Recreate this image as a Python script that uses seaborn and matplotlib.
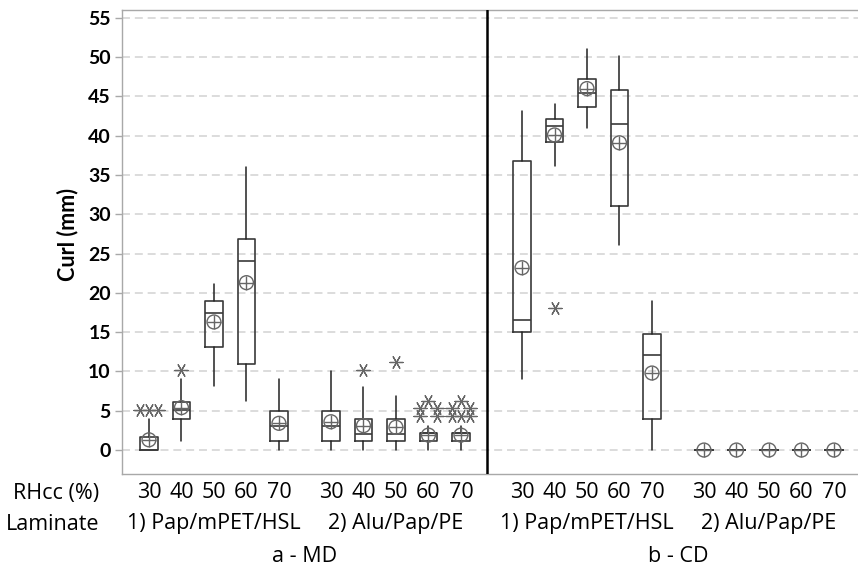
import collections

import matplotlib
matplotlib.use("Agg")
import matplotlib.pyplot as plt
import matplotlib.transforms as mtransforms
import numpy as np
import pandas as pd
import seaborn as sns

# ---- data -------------------------------------------------------------
rh_levels = [30, 40, 50, 60, 70]
laminates = ["1) Pap/mPET/HSL", "2) Alu/Pap/PE"]
directions = ["a - MD", "b - CD"]

# a - MD, 1) Pap/mPET/HSL
md_pap_q1 = [0.0, 4.0, 13.1, 11.0, 1.2]
md_pap_med = [0.0, 5.1, 17.4, 24.0, 3.0]
md_pap_q3 = [1.7, 6.1, 19.0, 26.9, 5.0]
md_pap_lo = [0.0, 1.1, 8.1, 6.2, 0.0]
md_pap_hi = [4.0, 9.0, 21.1, 36.0, 9.0]
md_pap_mean = [1.3, 5.4, 16.3, 21.3, 3.4]
md_pap_out = [[5.1, 5.1, 5.1], [10.2], [], [], []]

# a - MD, 2) Alu/Pap/PE
md_alu_q1 = [1.2, 1.2, 1.2, 1.2, 1.2]
md_alu_med = [3.0, 2.1, 2.1, 2.2, 2.2]
md_alu_q3 = [5.0, 4.0, 4.0, 2.2, 2.2]
md_alu_lo = [0.0, 0.0, 0.0, 0.0, 0.0]
md_alu_hi = [10.0, 8.0, 6.9, 3.0, 3.0]
md_alu_mean = [3.6, 3.1, 2.9, 1.9, 1.9]
md_alu_out = [[], [10.2], [11.2],
              [6.3, 5.3, 5.3, 4.3, 4.3],
              [6.3, 5.3, 5.3, 4.3, 4.3, 4.3]]

# b - CD, 1) Pap/mPET/HSL
cd_pap_q1 = [15.0, 39.2, 43.7, 31.0, 4.0]
cd_pap_med = [16.6, 41.2, 45.5, 41.5, 12.1]
cd_pap_q3 = [36.8, 42.1, 47.2, 45.8, 14.8]
cd_pap_lo = [9.1, 36.1, 41.0, 26.1, 0.0]
cd_pap_hi = [43.1, 44.0, 51.0, 50.1, 19.0]
cd_pap_mean = [23.2, 40.1, 46.0, 39.1, 9.8]
cd_pap_out = [[], [18.1], [], [], []]

# b - CD, 2) Alu/Pap/PE
cd_alu_q1 = [0.0, 0.0, 0.0, 0.0, 0.0]
cd_alu_med = [0.0, 0.0, 0.0, 0.0, 0.0]
cd_alu_q3 = [0.0, 0.0, 0.0, 0.0, 0.0]
cd_alu_lo = [0.0, 0.0, 0.0, 0.0, 0.0]
cd_alu_hi = [0.0, 0.0, 0.0, 0.0, 0.0]
cd_alu_mean = [0.0, 0.0, 0.0, 0.0, 0.0]
cd_alu_out = [[], [], [], [], []]

panels = [
    (directions[0], laminates[0], md_pap_q1, md_pap_med, md_pap_q3, md_pap_lo, md_pap_hi, md_pap_mean, md_pap_out),
    (directions[0], laminates[1], md_alu_q1, md_alu_med, md_alu_q3, md_alu_lo, md_alu_hi, md_alu_mean, md_alu_out),
    (directions[1], laminates[0], cd_pap_q1, cd_pap_med, cd_pap_q3, cd_pap_lo, cd_pap_hi, cd_pap_mean, cd_pap_out),
    (directions[1], laminates[1], cd_alu_q1, cd_alu_med, cd_alu_q3, cd_alu_lo, cd_alu_hi, cd_alu_mean, cd_alu_out),
]

# ---- layout -----------------------------------------------------------
group_start = [0.0, 5.6, 11.48, 17.08]   # left box of each laminate block
divider_x = 10.4
box_width = 0.54
flier_step = 0.27

sns.set_style("white")
plt.rcParams["font.family"] = ["Open Sans", "DejaVu Sans"]
plt.rcParams["text.color"] = "black"
plt.rcParams["ytick.labelcolor"] = "black"

fig = plt.figure(figsize=(8.58, 5.70), dpi=100)
ax = fig.add_axes([122 / 858, 96 / 570, 736 / 858, 464 / 570])

box_color = "#3a3a3a"
mark_color = "#666666"

stats, positions = [], []
mean_rows, out_rows = [], []
for gi, (dirn, lam, q1, med, q3, lo, hi, mean, out) in enumerate(panels):
    for i, rh in enumerate(rh_levels):
        x = group_start[gi] + i
        positions.append(x)
        stats.append(dict(q1=q1[i], med=med[i], q3=q3[i], whislo=lo[i],
                          whishi=hi[i], mean=mean[i], fliers=[]))
        mean_rows.append(dict(x=x, curl=mean[i]))
        for val, n in collections.Counter(out[i]).items():
            offs = [-1, 1] if n == 2 else list(np.arange(n) - (n - 1) / 2)
            for o in offs:
                out_rows.append(dict(x=x + o * flier_step, curl=val))

means = pd.DataFrame(mean_rows)
outliers = pd.DataFrame(out_rows)

# grid
ax.set_ylim(-3.05, 56.0)
ax.set_xlim(-0.83, 21.82)
ax.set_yticks(range(0, 56, 5))
ax.yaxis.grid(True, color="#dcdcdc", linewidth=1.4, linestyle=(0, (4.1, 2.5)))
ax.set_axisbelow(True)

ax.bxp(stats, positions=positions, widths=box_width, showcaps=False,
       showfliers=False, showmeans=False, patch_artist=False,
       boxprops=dict(color=box_color, linewidth=1.2),
       whiskerprops=dict(color="#222222", linewidth=1.1),
       medianprops=dict(color=box_color, linewidth=1.2))

# means: circle with cross
sns.scatterplot(data=means, x="x", y="curl", ax=ax, marker="o", s=100,
                facecolor="none", edgecolor=mark_color, linewidth=1.0, zorder=4)
sns.scatterplot(data=means, x="x", y="curl", ax=ax, marker="+", s=100,
                color=mark_color, linewidth=1.0, zorder=4)

# outliers: six-armed asterisks
sns.scatterplot(data=outliers, x="x", y="curl", ax=ax, marker=(6, 2, 30), s=90,
                color=mark_color, linewidth=0.9, zorder=4)

# block divider
ax.axvline(divider_x, color="black", linewidth=1.8, zorder=5)

# axes styling
for side in ["top", "left", "bottom"]:
    ax.spines[side].set_color("#a8a8a8")
    ax.spines[side].set_linewidth(1.0)
ax.spines["right"].set_visible(False)
ax.tick_params(axis="y", left=True, length=5, width=1.0, color="#a8a8a8",
               labelsize=14, pad=3)
for lab in ax.get_yticklabels():
    lab.set_family(["Lato", "DejaVu Sans"])
    lab.set_fontweight("bold")
ax.tick_params(axis="x", bottom=False, labelbottom=False)
ax.set_xlabel("")
ax.set_ylabel("")

fig.text(68 / 858, (570 - 235) / 570, "Curl (mm)", rotation=90, ha="center",
         va="center", fontsize=15.5, fontweight="bold",
         family=["Lato", "DejaVu Sans"])

# category rows below the axis
tr = mtransforms.blended_transform_factory(ax.transData, fig.transFigure)
y_rh, y_lam, y_dir = (570 - 493) / 570, (570 - 524) / 570, (570 - 556) / 570
fs = 15.5
fig.text(99 / 858, y_rh, "RHcc (%)", ha="right", va="center", fontsize=fs)
fig.text(99 / 858, y_lam, "Laminate", ha="right", va="center", fontsize=fs)
for gi, (dirn, lam, *_rest) in enumerate(panels):
    xs = [group_start[gi] + i for i in range(len(rh_levels))]
    for x, rh in zip(xs, rh_levels):
        ax.text(x, y_rh, str(rh), transform=tr, ha="center", va="center", fontsize=fs)
    ax.text(np.mean(xs), y_lam, lam, transform=tr, ha="center", va="center", fontsize=fs)
for di, dirn in enumerate(directions):
    xs = [group_start[2 * di], group_start[2 * di + 1] + len(rh_levels) - 1]
    ax.text(np.mean(xs), y_dir, dirn, transform=tr, ha="center", va="center", fontsize=fs)

fig.savefig("out.png", dpi=100)
